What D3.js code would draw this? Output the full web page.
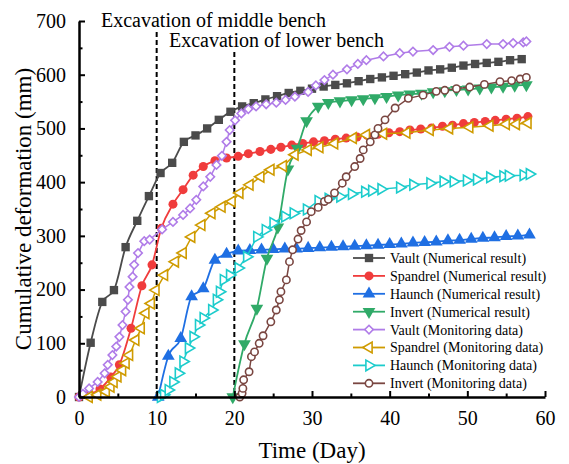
<!DOCTYPE html>
<html lang="en">

<head>
  <meta charset="UTF-8">
  <title>cumulative deformation</title>
  <script src="https://cdn.jsdelivr.net/npm/d3@7/dist/d3.min.js"></script>
  <style>
    body { margin: 0; background: #fff; }
  </style>
</head>

<body>
  <svg width="569" height="464"></svg>
  <script>
    // [day, mm]
    var vaultNum = [[0,0],[1.5,101],[3,177],[4.5,199],[6,279],[7.5,328],[9,374],[10.5,417],[12,436],[13.5,475],[15,487],[16.5,500],[18,516],[19.5,531],[21,541],[22.5,547],[24,554],[25.5,560],[27,566],[28.5,570],[30,574],[31.5,578],[33,581],[34.5,584],[36,588],[37.5,592],[39,595],[40.5,598],[42,601],[43.5,604],[45,608],[46.5,610],[48,613],[49.5,617],[51,620],[52.5,622],[54,624],[55.5,627],[57,629]]
    var spandrelNum = [[0,0],[1.4,5],[2.7,15],[4.1,37],[5.2,60],[6.7,128],[8.1,207],[9.4,246],[10.6,314],[12.1,359],[13.4,386],[14.7,413],[16,429],[17.5,440],[19,445],[20.5,448],[21.8,453],[23.3,457],[24.7,461],[26,465],[27.4,469],[28.8,472],[30.2,475],[31.6,477],[33,480],[34.4,482],[35.8,484],[37.1,487],[38.5,489],[39.9,492],[41.3,494],[42.6,497],[44,499],[45.4,501],[46.8,504],[48.1,506],[49.5,509],[50.9,511],[52.3,513],[53.6,515],[55,517],[56.4,519],[57.8,522]]
    var haunchNum = [[10.2,0],[11.5,76],[13.1,109],[14.5,187],[16,202],[17.5,255],[19,266],[20.5,272],[22,273],[23.5,274],[25,275],[26.5,276],[28,276],[29.5,277],[31,278],[32.5,279],[34,280],[35.5,281],[37,282],[38.5,283],[40,284],[41.5,285],[43,287],[44.5,288],[46,289],[47.5,291],[49,292],[50.5,294],[52,296],[53.5,297],[55,299],[56.5,300],[58,302]]
    var invertNum = [[19.8,0],[21.3,99],[22.9,165],[24.2,258],[25.6,316],[26.9,424],[28.1,463],[29.3,514],[30.8,541],[32.1,548],[33.6,551],[35.1,553],[36.6,555],[38.1,557],[39.6,559],[41.1,562],[42.6,564],[44.1,565],[45.6,568],[47.1,570],[48.6,572],[50.1,573],[51.6,575],[53.1,577],[54.6,578],[56.1,580],[57.6,581]]
    var vaultMon = [[0,0],[0.5,6],[1.3,16],[2.4,28],[3.3,44],[3.7,60],[4.3,78],[4.8,94],[5.2,112],[5.6,134],[6,159],[6.3,181],[6.5,205],[6.9,224],[7.1,246],[7.6,268],[8.4,290],[9.1,293],[10.7,312],[12.1,326],[13.4,339],[14.3,351],[15.1,367],[16,392],[16.9,410],[17.7,432],[18.4,449],[19,475],[19.4,497],[20.1,515],[20.9,528],[21.8,536],[22.8,541],[24.1,545],[25.4,548],[26.6,553],[27.8,559],[29.5,568],[30.5,580],[31.6,590],[32.7,600],[34.5,610],[35.9,620],[37,627],[39.2,634],[41.3,640],[43,643],[45.6,646],[47.7,652],[49.5,654],[52.5,657],[54.6,657],[55.9,659],[57.2,660],[57.6,662]]
    var spandrelMon = [[1.3,0],[2.4,4],[3.5,10],[4.1,19],[4.5,28],[5,38],[5.6,50],[6.05,63],[6.5,78],[7.3,106],[8,128],[8.6,156],[9.3,174],[9.9,199],[11,227],[12.4,252],[13.4,268],[14.5,298],[15.8,320],[17.1,342],[18.4,354],[19.7,364],[20.7,380],[22,395],[23.4,410],[24.7,423],[26.3,430],[27.8,451],[29.5,460],[31,465],[32.9,472],[35.3,482],[37,488],[39.2,490],[42.2,492],[45.2,497],[47.7,500],[50.3,502],[52.9,505],[55,508],[56.3,508],[57.8,510]]
    var haunchMon = [[10.5,0],[10.9,4],[11.5,13],[12.1,28],[12.8,44],[13.4,66],[14.1,91],[14.7,112],[15.4,134],[16,147],[17.1,162],[17.7,181],[18.1,196],[18.6,218],[19.4,227],[20.5,240],[21.6,261],[22.9,298],[24,311],[25,324],[26.5,336],[27.6,342],[29.3,349],[30.8,365],[32.1,369],[33.6,373],[35.1,378],[36.8,382],[37.7,384],[38.9,387],[41.3,390],[43,395],[45.2,398],[46.9,401],[48.2,401],[49.9,403],[51.2,405],[52.9,409],[54.6,411],[55.3,412],[57.2,413],[58,415]]
    var invertMon = [[20.7,0],[21,7],[21.1,16],[21.2,32],[21.9,47],[22.2,75],[22.6,84],[23.2,100],[23.7,114],[24.7,140],[25.4,162],[25.8,181],[26,196],[26.7,218],[27.1,252],[27.5,274],[28.2,294],[28.6,310],[29.3,326],[29.9,345],[30.8,353],[31.6,364],[32.1,368],[32.9,380],[33.9,398],[34.4,410],[35.5,429],[36.2,444],[36.6,460],[37.5,475],[38.1,488],[38.5,500],[39.4,516],[40.7,538],[42.4,556],[44.3,562],[46,569],[47.1,571],[48.6,574],[50.3,577],[52.2,582],[54.2,587],[55.7,589],[56.8,592],[57.6,595]]

    var seriesNames = ['Vault (Numerical result)', 'Spandrel (Numerical result)', 'Haunch (Numerical result)', 'Invert (Numerical result)',
      'Vault (Monitoring data)', 'Spandrel (Monitoring data)', 'Haunch (Monitoring data)', 'Invert (Monitoring data)']
    var excavationDays = [10, 20]
    var excavationLabels = ['Excavation of middle bench', 'Excavation of lower bench']
    var xTicks = [0, 10, 20, 30, 40, 50, 60]
    var yTicks = [0, 100, 200, 300, 400, 500, 600, 700]

    var FONT = '"Liberation Serif", "Times New Roman", "DejaVu Serif", serif'

    // style per series
    var styles = [
      { data: vaultNum, color: '#4b4b4b', sym: d3.symbolSquare, size: 70, rot: 0, hollow: false, curve: d3.curveMonotoneX },
      { data: spandrelNum, color: '#f03c3c', sym: d3.symbolCircle, size: 64, rot: 0, hollow: false, curve: d3.curveMonotoneX },
      { data: haunchNum, color: '#1f6fe3', sym: d3.symbolTriangle, size: 70, rot: 0, hollow: false, curve: d3.curveMonotoneX },
      { data: invertNum, color: '#30aa68', sym: d3.symbolTriangle, size: 70, rot: 180, hollow: false, curve: d3.curveMonotoneX },
      { data: vaultMon, color: '#b07ce8', sym: d3.symbolSquare, size: 36, rot: 45, hollow: true, curve: d3.curveLinear },
      { data: spandrelMon, color: '#cf9b00', sym: d3.symbolTriangle, size: 50, rot: -90, hollow: true, curve: d3.curveLinear },
      { data: haunchMon, color: '#1ccccc', sym: d3.symbolTriangle, size: 50, rot: 90, hollow: true, curve: d3.curveLinear },
      { data: invertMon, color: '#7a4641', sym: d3.symbolCircle, size: 42, rot: 0, hollow: true, curve: d3.curveLinear }
    ]

    var svg = d3.select('svg')
    var x = d3.scaleLinear().domain([0, 60]).range([79, 545])
    var y = d3.scaleLinear().domain([0, 700]).range([397, 21])

    // excavation lines
    var tops = [32, 52]
    svg.selectAll('.exc')
      .data(excavationDays)
      .enter()
      .append('line')
      .attr('x1', d => x(d)).attr('x2', d => x(d))
      .attr('y1', (d, i) => tops[i]).attr('y2', y(0))
      .attr('stroke', '#000')
      .attr('stroke-width', 2)
      .attr('stroke-dasharray', '5,3')
    svg.selectAll('.exclabel')
      .data(excavationLabels)
      .enter()
      .append('text')
      .attr('x', (d, i) => [101, 169][i])
      .attr('y', (d, i) => [27, 47][i])
      .attr('font-family', FONT)
      .attr('font-size', 20)
      .text(d => d)

    // series
    styles.forEach(function (s) {
      var line = d3.line().x(d => x(d[0])).y(d => y(d[1])).curve(s.curve)
      svg.append('path')
        .attr('d', line(s.data))
        .attr('fill', 'none')
        .attr('stroke', s.color)
        .attr('stroke-width', s.hollow ? 1.5 : 1.8)
      svg.append('g')
        .selectAll('path')
        .data(s.data)
        .enter()
        .append('path')
        .attr('d', d3.symbol().type(s.sym).size(s.size))
        .attr('transform', d => `translate(${x(d[0])},${y(d[1])}) rotate(${s.rot})`)
        .attr('fill', s.hollow ? '#fff' : s.color)
        .attr('stroke', s.color)
        .attr('stroke-width', s.hollow ? 1.6 : 0)
    })

    // axes, ticks pointing inward
    svg.append('g')
      .attr('transform', `translate(0,${y(0)})`)
      .call(d3.axisBottom(x).tickValues(xTicks).tickSizeInner(-6).tickSizeOuter(0).tickPadding(14))
    svg.append('g')
      .attr('transform', `translate(0,${y(0)})`)
      .call(d3.axisBottom(x).tickValues(d3.range(5, 60, 10)).tickSize(-3.5).tickFormat(''))
      .select('.domain').remove()
    svg.append('g')
      .attr('transform', `translate(${x(0)},0)`)
      .call(d3.axisLeft(y).tickValues(yTicks).tickSizeInner(-6).tickSizeOuter(0).tickPadding(13))
    svg.append('g')
      .attr('transform', `translate(${x(0)},0)`)
      .call(d3.axisLeft(y).tickValues(d3.range(50, 700, 100)).tickSize(-3.5).tickFormat(''))
      .select('.domain').remove()
    svg.selectAll('.domain').attr('stroke-width', 2.5)
    svg.selectAll('.tick line').attr('stroke-width', 2)
    svg.selectAll('.tick text').attr('font-family', FONT).attr('font-size', 20)
    svg.selectAll('g').attr('font-family', FONT)

    svg.append('text')
      .attr('x', 312).attr('y', 458)
      .attr('text-anchor', 'middle')
      .attr('font-family', FONT)
      .attr('font-size', 23)
      .text('Time (Day)')
    svg.append('text')
      .attr('transform', 'translate(31,209) rotate(-90)')
      .attr('text-anchor', 'middle')
      .attr('font-family', FONT)
      .attr('font-size', 23)
      .text('Cumulative deformation (mm)')

    // legend
    var legend = svg.append('g')
      .selectAll('g')
      .data(styles)
      .enter()
      .append('g')
      .attr('transform', (d, i) => `translate(353,${258 + i * 17.9})`)
    legend.append('line')
      .attr('x1', 0).attr('x2', 32)
      .attr('stroke', d => d.color)
      .attr('stroke-width', 1.8)
    legend.append('path')
      .attr('d', d => d3.symbol().type(d.sym).size(d.size)())
      .attr('transform', d => `translate(16,0) rotate(${d.rot})`)
      .attr('fill', d => d.hollow ? '#fff' : d.color)
      .attr('stroke', d => d.color)
      .attr('stroke-width', d => d.hollow ? 1.6 : 0)
    legend.append('text')
      .attr('x', 37).attr('dy', '0.35em')
      .attr('font-family', FONT)
      .attr('font-size', 14)
      .text((d, i) => seriesNames[i])
  </script>
</body>

</html>
